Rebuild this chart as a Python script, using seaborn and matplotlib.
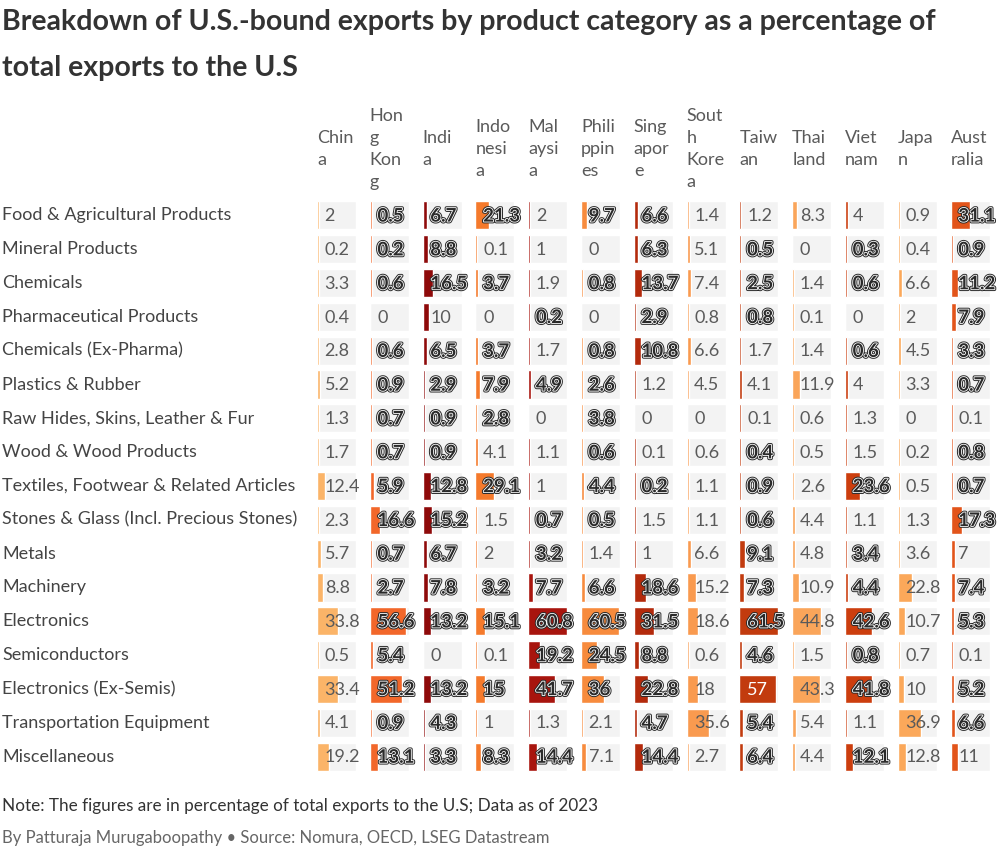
import numpy as np
import pandas as pd
import matplotlib.pyplot as plt
import matplotlib.patheffects as pe
import matplotlib.transforms as mtrans
import seaborn as sns

# data (percent of total exports to the U.S.)
categories = [
    "Food & Agricultural Products", "Mineral Products", "Chemicals",
    "Pharmaceutical Products", "Chemicals (Ex-Pharma)", "Plastics & Rubber",
    "Raw Hides, Skins, Leather & Fur", "Wood & Wood Products",
    "Textiles, Footwear & Related Articles", "Stones & Glass (Incl. Precious Stones)",
    "Metals", "Machinery", "Electronics", "Semiconductors",
    "Electronics (Ex-Semis)", "Transportation Equipment", "Miscellaneous",
]
countries = ["China", "Hong Kong", "India", "Indonesia", "Malaysia", "Philippines",
             "Singapore", "South Korea", "Taiwan", "Thailand", "Vietnam", "Japan", "Australia"]
header_labels = ["Chin\na", "Hon\ng\nKon\ng", "Indi\na", "Indo\nnesi\na", "Mal\naysi\na",
                 "Phili\nppin\nes", "Sing\napor\ne", "Sout\nh\nKore\na", "Taiw\nan",
                 "Thai\nland", "Viet\nnam", "Japa\nn", "Aust\nralia"]

china = [2, 0.2, 3.3, 0.4, 2.8, 5.2, 1.3, 1.7, 12.4, 2.3, 5.7, 8.8, 33.8, 0.5, 33.4, 4.1, 19.2]
hong_kong = [0.5, 0.2, 0.6, 0, 0.6, 0.9, 0.7, 0.7, 5.9, 16.6, 0.7, 2.7, 56.6, 5.4, 51.2, 0.9, 13.1]
india = [6.7, 8.8, 16.5, 10, 6.5, 2.9, 0.9, 0.9, 12.8, 15.2, 6.7, 7.8, 13.2, 0, 13.2, 4.3, 3.3]
indonesia = [21.3, 0.1, 3.7, 0, 3.7, 7.9, 2.8, 4.1, 29.1, 1.5, 2, 3.2, 15.1, 0.1, 15, 1, 8.3]
malaysia = [2, 1, 1.9, 0.2, 1.7, 4.9, 0, 1.1, 1, 0.7, 3.2, 7.7, 60.8, 19.2, 41.7, 1.3, 14.4]
philippines = [9.7, 0, 0.8, 0, 0.8, 2.6, 3.8, 0.6, 4.4, 0.5, 1.4, 6.6, 60.5, 24.5, 36, 2.1, 7.1]
singapore = [6.6, 6.3, 13.7, 2.9, 10.8, 1.2, 0, 0.1, 0.2, 1.5, 1, 18.6, 31.5, 8.8, 22.8, 4.7, 14.4]
south_korea = [1.4, 5.1, 7.4, 0.8, 6.6, 4.5, 0, 0.6, 1.1, 1.1, 6.6, 15.2, 18.6, 0.6, 18, 35.6, 2.7]
taiwan = [1.2, 0.5, 2.5, 0.8, 1.7, 4.1, 0.1, 0.4, 0.9, 0.6, 9.1, 7.3, 61.5, 4.6, 57, 5.4, 6.4]
thailand = [8.3, 0, 1.4, 0.1, 1.4, 11.9, 0.6, 0.5, 2.6, 4.4, 4.8, 10.9, 44.8, 1.5, 43.3, 5.4, 4.4]
vietnam = [4, 0.3, 0.6, 0, 0.6, 4, 1.3, 1.5, 23.6, 1.1, 3.4, 4.4, 42.6, 0.8, 41.8, 1.1, 12.1]
japan = [0.9, 0.4, 6.6, 2, 4.5, 3.3, 0, 0.2, 0.5, 1.3, 3.6, 22.8, 10.7, 0.7, 10, 36.9, 12.8]
australia = [31.1, 0.9, 11.2, 7.9, 3.3, 0.7, 0.1, 0.8, 0.7, 17.3, 7, 7.4, 5.3, 0.1, 5.2, 6.6, 11]

# label style per cell as drawn in the reference: n = plain, b = bold outlined, w = white
label_styles = ["nnnnnnnnnnnnnnnnn", "bbbnbbbbbbbbbbbbb", "bbbnbbbbbbbbbnbbb",
                "bnbnbbbnbnnbbnbnb", "nnnbnbnnnbbbbbbnb", "bnbnbbbbbbnbbbbnn",
                "bbbbbnnnbnnbbbbbb", "nnnnnnnnnnnnnnnnn", "nbbbnnnbbbbbbbwbb",
                "nnnnnnnnnnnnnnnnn", "nbbnbnnnbnbbbbbnb", "nnnnnnnnnnnnnnnnn",
                "bbbbbbnbbbnbbnbbn"]

colors = ["#fbb468", "#f2672a", "#8e0a0a", "#f57a2c", "#a8150e", "#f78b3d", "#b32a0c",
          "#f99a4f", "#c23b0e", "#faa55a", "#cc3e0e", "#fba85a", "#e2541a"]

values = [china, hong_kong, india, indonesia, malaysia, philippines, singapore,
          south_korea, taiwan, thailand, vietnam, japan, australia]

df = pd.DataFrame({c: v for c, v in zip(countries, values)}, index=categories)
df.index.name = "category"

sns.set_style("white")
plt.rcParams['font.family'] = ['Lato', 'DejaVu Sans']

W, H = 1000, 849
fig, axes = plt.subplots(1, len(countries), figsize=(W / 100, H / 100), dpi=100)

x_max = 61.5
cell_w = 39
col_left0 = 317
col_step = 52.8
top_px, bot_px = 198.5, 773.5

for j, (country, ax) in enumerate(zip(countries, axes)):
    left = col_left0 + j * col_step
    ax.set_position([left / W, 1 - bot_px / H, cell_w / W, (bot_px - top_px) / H])
    vals = df[country].to_numpy(dtype=float)
    # small values still get a visible sliver, like the original
    shown = np.where(vals > 0, np.maximum(vals, 3.0), 0)
    sns.barplot(x=[x_max] * len(categories), y=categories, color="#f3f3f3",
                width=0.83, errorbar=None, ax=ax, saturation=1)
    sns.barplot(x=shown, y=categories, color=colors[j], width=0.83,
                errorbar=None, ax=ax, saturation=1)
    ax.set_xlim(0, x_max)
    ax.set_ylim(len(categories) - 0.5, -0.5)
    ax.set_xticks([])
    ax.set_yticks([])
    ax.set_xlabel("")
    ax.set_ylabel("")
    for s in ax.spines.values():
        s.set_visible(False)
    ax.patch.set_alpha(0)

    for i, v in enumerate(vals):
        st = label_styles[j][i]
        txt = f"{v:g}"
        if st == "b":
            ax.annotate(txt, xy=(0, i), xytext=(5.5, -0.5), textcoords="offset points",
                        va="center", ha="left", fontsize=13.5, fontweight="bold",
                        color="#2a2a2a",
                        path_effects=[pe.Stroke(linewidth=2.6, foreground="#2a2a2a"),
                                      pe.Stroke(linewidth=1.2, foreground="white"),
                                      pe.Normal()])
        else:
            ax.annotate(txt, xy=(0, i), xytext=(5.5, -0.5), textcoords="offset points",
                        va="center", ha="left", fontsize=13, fontweight="normal",
                        color="white" if st == "w" else "#5a5a5a")

    fig.text(left / W, 1 - 149 / H, header_labels[j], ha="left", va="center",
             fontsize=13, fontweight="normal", color="#5a5a5a", linespacing=1.45)

# row labels, placed on the rows of the first column
row_tr = mtrans.blended_transform_factory(fig.transFigure, axes[0].transData)
for i, cat in enumerate(categories):
    axes[0].text(2 / W, i, cat, transform=row_tr, ha="left", va="center",
                 fontsize=13, fontweight="normal", color="#444444", clip_on=False)

fig.text(2 / W, 1 - 22 / H, "Breakdown of U.S.-bound exports by product category as a percentage of",
         ha="left", va="center", fontsize=20.5, fontweight="bold", color="#333333")
fig.text(2 / W, 1 - 68 / H, "total exports to the U.S",
         ha="left", va="center", fontsize=20.5, fontweight="bold", color="#333333")
fig.text(2 / W, 1 - 806 / H, "Note: The figures are in percentage of total exports to the U.S; Data as of 2023",
         ha="left", va="center", fontsize=12.3, color="#333333")
fig.text(2 / W, 1 - 838 / H, "By Patturaja Murugaboopathy \u2022 Source: Nomura, OECD, LSEG Datastream",
         ha="left", va="center", fontsize=12.0, color="#666666")

fig.savefig("out.png", dpi=100)
